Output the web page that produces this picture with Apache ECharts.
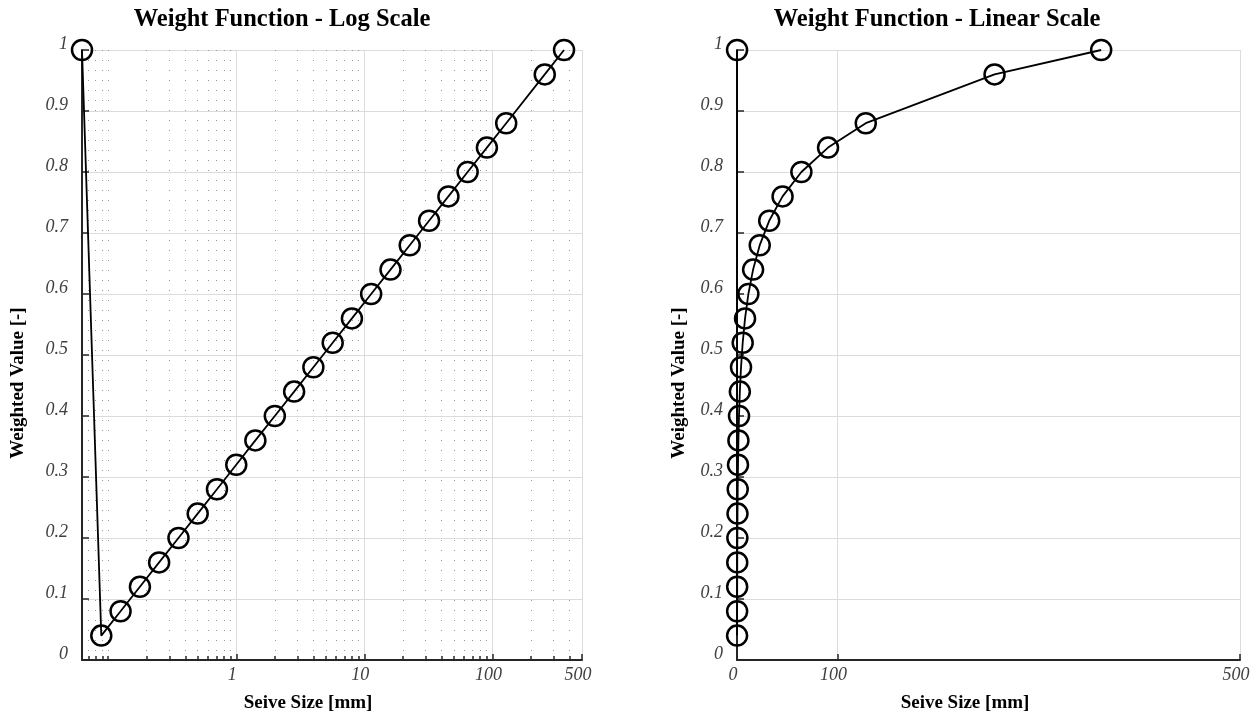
<!DOCTYPE html>
<html>
<head>
<meta charset="utf-8">
<script src="https://cdn.jsdelivr.net/npm/echarts@6/dist/echarts.min.js"></script>
<style>
html,body{margin:0;padding:0;background:#fff;}
#chart{width:1258px;height:717px;}
</style>
</head>
<body>
<div id="chart"></div>
<script>
// ---- data ----
const sieveSizes = [0.0625, 0.0884, 0.125, 0.177, 0.25, 0.354, 0.5, 0.707, 1, 1.41, 2, 2.83, 4, 5.66, 8, 11.3, 16, 22.6, 32, 45.3, 64, 90.5, 128, 256, 362];
const weights = [1, 0.04, 0.08, 0.12, 0.16, 0.2, 0.24, 0.28, 0.32, 0.36, 0.4, 0.44, 0.48, 0.52, 0.56, 0.6, 0.64, 0.68, 0.72, 0.76, 0.8, 0.84, 0.88, 0.96, 1];
const logMajorTicks = [1, 10, 100, 500];
const logMinorTicks = [0.07, 0.08, 0.09, 0.1, 0.2, 0.3, 0.4, 0.5, 0.6, 0.7, 0.8, 0.9, 2, 3, 4, 5, 6, 7, 8, 9, 20, 30, 40, 50, 60, 70, 80, 90, 200, 300, 400];
const linearTicks = [0, 100, 500];
const titles = ['Weight Function - Log Scale', 'Weight Function - Linear Scale'];
const xName = 'Seive Size [mm]';
const yName = 'Weighted Value [-]';

const points = sieveSizes.map((x, i) => [x, weights[i]]);

const SERIF = '"Liberation Serif", "DejaVu Serif", serif';
const AXIS_COLOR = '#262626';
const LABEL_COLOR = '#404040';
const GRID_COLOR = '#dcdcdc';

const tickLabelStyle = {
  fontFamily: SERIF, fontStyle: 'italic', fontSize: 18, color: LABEL_COLOR
};

function yAxisFor(gridIndex) {
  return {
    type: 'value', gridIndex: gridIndex, min: 0, max: 1, interval: 0.1,
    axisLine: { show: true, lineStyle: { color: AXIS_COLOR, width: 2 } },
    axisTick: { show: true, inside: true, length: 7, lineStyle: { color: AXIS_COLOR, width: 1.5 } },
    axisLabel: Object.assign({}, tickLabelStyle, {
      margin: 14, verticalAlign: 'bottom', lineHeight: 12,
      formatter: v => String(Math.round(v * 10) / 10)
    }),
    splitLine: { show: true, lineStyle: { color: GRID_COLOR, width: 1 } }
  };
}

const seriesStyle = {
  type: 'line',
  symbol: 'circle',
  symbolSize: 20,
  itemStyle: { color: 'rgba(0,0,0,0)', borderColor: '#000', borderWidth: 2.5 },
  lineStyle: { color: '#000', width: 1.8 },
  emphasis: { disabled: true },
  clip: false,
  animation: false
};

const chart = echarts.init(document.getElementById('chart'), null, { renderer: 'canvas' });

const graphicTexts = [
  { x: 282, y: 20, text: titles[0], size: 24.5, rot: 0 },
  { x: 937, y: 20, text: titles[1], size: 24.5, rot: 0 },
  { x: 308, y: 703, text: xName, size: 19, rot: 0 },
  { x: 965, y: 703, text: xName, size: 19, rot: 0 },
  { x: 18, y: 383, text: yName, size: 19, rot: Math.PI / 2 },
  { x: 679, y: 383, text: yName, size: 19, rot: Math.PI / 2 }
].map(t => ({
  type: 'text', x: t.x, y: t.y, rotation: t.rot,
  style: {
    text: t.text, fontFamily: SERIF, fontWeight: 'bold', fontSize: t.size,
    fill: '#000', align: 'center', verticalAlign: 'middle'
  }
}));

chart.setOption({
  backgroundColor: '#fff',
  animation: false,
  grid: [
    { left: 82, width: 500, top: 50, height: 610, containLabel: false },
    { left: 737, width: 503, top: 50, height: 610, containLabel: false }
  ],
  xAxis: [
    {
      type: 'log', gridIndex: 0, logBase: 10, min: 0.0625, max: 500, position: 'bottom',
      axisLine: { show: true, lineStyle: { color: AXIS_COLOR, width: 2 } },
      axisTick: { show: true, inside: true, length: 6, customValues: logMajorTicks, lineStyle: { color: AXIS_COLOR, width: 1.5 } },
      axisLabel: Object.assign({}, tickLabelStyle, { margin: 6, customValues: logMajorTicks, padding: [0, 8, 0, 0], formatter: v => String(v) }),
      splitLine: { show: true, lineStyle: { color: GRID_COLOR, width: 1 } }
    },
    {
      type: 'log', gridIndex: 0, logBase: 10, min: 0.0625, max: 500, position: 'bottom',
      axisLine: { show: false },
      axisTick: { show: true, inside: true, length: 4, customValues: logMinorTicks, lineStyle: { color: AXIS_COLOR, width: 1.5 } },
      axisLabel: { show: false },
      splitLine: { show: true, lineStyle: { color: '#999999', width: 1, type: [1, 9] } }
    },
    {
      type: 'value', gridIndex: 1, min: 0, max: 500, position: 'bottom',
      axisLine: { show: true, lineStyle: { color: AXIS_COLOR, width: 2 } },
      axisTick: { show: true, inside: true, length: 6, customValues: linearTicks, lineStyle: { color: AXIS_COLOR, width: 1.5 } },
      axisLabel: Object.assign({}, tickLabelStyle, { margin: 6, customValues: linearTicks, padding: [0, 8, 0, 0], formatter: v => String(v) }),
      splitLine: { show: true, lineStyle: { color: GRID_COLOR, width: 1 } }
    }
  ],
  yAxis: [yAxisFor(0), yAxisFor(1)],
  series: [
    Object.assign({}, seriesStyle, { name: 'log', xAxisIndex: 0, yAxisIndex: 0, data: points }),
    Object.assign({}, seriesStyle, { name: 'linear', xAxisIndex: 2, yAxisIndex: 1, data: points })
  ],
  graphic: graphicTexts
});
</script>
</body>
</html>
